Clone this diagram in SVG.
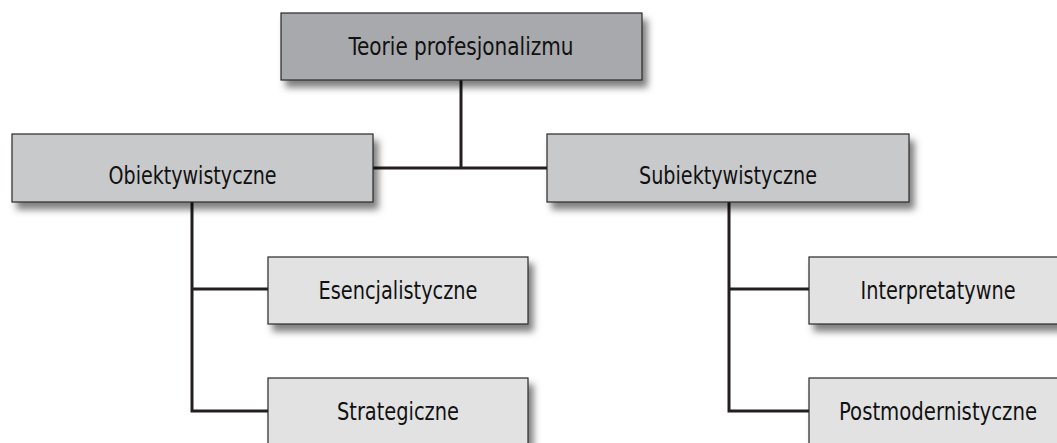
<svg xmlns="http://www.w3.org/2000/svg" width="1057" height="443" viewBox="0 0 1057 443">
<defs>
<filter id="sh" x="-10%" y="-20%" width="130%" height="160%">
<feDropShadow dx="5" dy="7" stdDeviation="3.5" flood-color="#000" flood-opacity="0.5"/>
</filter>
<style>
.box{stroke:#2a2a2a;stroke-width:1.2;filter:url(#sh)}
.l1{fill:#a8a9ac}
.l2{fill:#c8c9cb}
.l3{fill:#e2e2e3}
.t{font-family:"Liberation Sans Narrow","DejaVu Sans Condensed","Liberation Sans",sans-serif;font-stretch:condensed;font-size:24px;fill:#111;text-anchor:middle}
.c{fill:none;stroke:#231f20;stroke-width:3}
</style>
</defs>
<rect width="1057" height="443" fill="#fff"/>
<g id="connectors">
<path class="c" d="M461,80 V168"/>
<path class="c" d="M373,168 H547"/>
<path class="c" d="M192,202 V411 H268 M192,289 H268"/>
<path class="c" d="M729,202 V411 H809 M729,289 H809"/>
</g>
<g id="n-root">
<rect class="box l1" x="281" y="13" width="361" height="67"/>
<text class="t" x="461" y="55" textLength="225" lengthAdjust="spacingAndGlyphs">Teorie profesjonalizmu</text>
</g>
<g id="n-obiekt">
<rect class="box l2" x="12" y="134" width="361" height="68"/>
<text class="t" x="192.5" y="184" textLength="168" lengthAdjust="spacingAndGlyphs">Obiektywistyczne</text>
</g>
<g id="n-subiekt">
<rect class="box l2" x="547" y="134" width="362" height="68"/>
<text class="t" x="728" y="184" textLength="178" lengthAdjust="spacingAndGlyphs">Subiektywistyczne</text>
</g>
<g id="n-esenc">
<rect class="box l3" x="268" y="257" width="260" height="67"/>
<text class="t" x="398" y="299" textLength="159" lengthAdjust="spacingAndGlyphs">Esencjalistyczne</text>
</g>
<g id="n-strat">
<rect class="box l3" x="268" y="378" width="260" height="80"/>
<text class="t" x="398" y="420" textLength="122" lengthAdjust="spacingAndGlyphs">Strategiczne</text>
</g>
<g id="n-interp">
<rect class="box l3" x="809" y="257" width="258" height="67"/>
<text class="t" x="938" y="299" textLength="155" lengthAdjust="spacingAndGlyphs">Interpretatywne</text>
</g>
<g id="n-postmod">
<rect class="box l3" x="809" y="378" width="258" height="80"/>
<text class="t" x="938" y="420" textLength="198" lengthAdjust="spacingAndGlyphs">Postmodernistyczne</text>
</g>
</svg>
